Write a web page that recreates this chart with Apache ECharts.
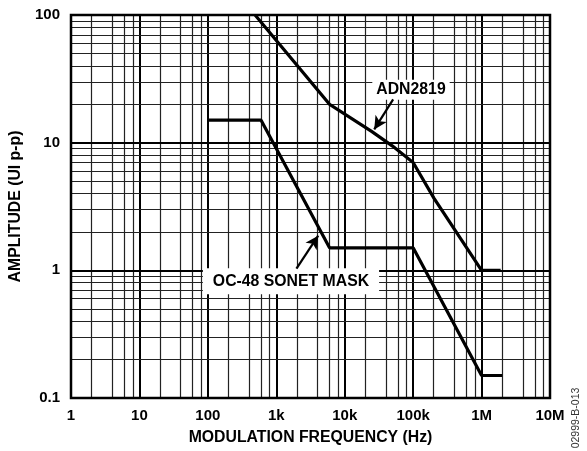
<!DOCTYPE html>
<html>
<head>
<meta charset="utf-8">
<script src="https://cdn.jsdelivr.net/npm/echarts@6/dist/echarts.min.js"></script>
<style>html,body{margin:0;padding:0;background:#fff;}#c{width:587px;height:451px;}</style>
</head>
<body>
<div id="c"></div>
<script>
// ---- data ----
const freqTickLabels = ['1', '10', '100', '1k', '10k', '100k', '1M', '10M'];
const ampTickLabels = ['0.1', '1', '10', '100'];
const adnFreq = [490, 6000, 25000, 50000, 100000, 200000, 1000000, 1900000];
const adnAmp  = [100, 20, 12.2, 9.4, 7, 3.7, 1, 1];
const maskFreq = [100, 600, 6000, 100000, 1000000, 2000000];
const maskAmp  = [15, 15, 1.5, 1.5, 0.15, 0.15];
const xMinorMult = [2, 4, 6, 8];
const yMinorMult = [2, 3, 4, 5, 6, 7, 8, 9];
const xDecades = [1, 10, 100, 1000, 10000, 100000, 1000000];
const yDecades = [0.1, 1, 10];
// annotations (data coordinates)
const adnLabel = {text: 'ADN2819', at: [93000, 26], arrowFrom: [51000, 21.8], arrowTo: [27000, 12.7]};
const maskLabel = {text: 'OC-48 SONET MASK', at: [1640, 0.82], arrowFrom: [1970, 1.03], arrowTo: [4100, 1.87]};

const FONT = '"Liberation Sans", Arial, Helvetica, sans-serif';
const chart = echarts.init(document.getElementById('c'), null, {renderer: 'canvas'});

const zip = (a, b) => a.map((v, i) => [v, b[i]]);

// grid lines
const gridLines = [];
xDecades.forEach((d, i) => {
  if (i > 0) gridLines.push({xAxis: d, lineStyle: {width: 2, color: '#000', type: 'solid'}});
  xMinorMult.forEach(m => gridLines.push({xAxis: d * m, lineStyle: {width: 1.2, color: '#222', type: 'solid'}}));
});
yDecades.forEach((d, i) => {
  if (i > 0) gridLines.push({yAxis: d, lineStyle: {width: 2, color: '#000', type: 'solid'}});
  yMinorMult.forEach(m => gridLines.push({yAxis: +(d * m).toPrecision(3), lineStyle: {width: 1.2, color: '#222', type: 'solid'}}));
});

function tickIdx(v) { return Math.round(Math.log10(v)); }

chart.setOption({
  animation: false,
  backgroundColor: '#fff',
  grid: {left: 71, right: 37, top: 15, bottom: 51, show: true, borderColor: '#000', borderWidth: 2.5, backgroundColor: 'transparent', z: 20},
  xAxis: {
    type: 'log', logBase: 10, min: 1, max: 1e7, splitNumber: 7,
    axisLine: {show: false}, axisTick: {show: false}, splitLine: {show: false},
    axisLabel: {margin: 10, color: '#000', fontFamily: FONT, fontWeight: 'bold', fontSize: 15,
      formatter: v => freqTickLabels[tickIdx(v)]},
    name: 'MODULATION FREQUENCY (Hz)', nameLocation: 'middle', nameGap: 32,
    nameTextStyle: {color: '#000', fontFamily: FONT, fontWeight: 'bold', fontSize: 15.8}
  },
  yAxis: {
    type: 'log', logBase: 10, min: 0.1, max: 100, splitNumber: 3,
    axisLine: {show: false}, axisTick: {show: false}, splitLine: {show: false},
    axisLabel: {margin: 11, color: '#000', fontFamily: FONT, fontWeight: 'bold', fontSize: 15,
      formatter: v => ampTickLabels[tickIdx(v) + 1]},
    name: 'AMPLITUDE (UI p-p)', nameLocation: 'middle', nameGap: 39,
    nameTextStyle: {color: '#000', fontFamily: FONT, fontWeight: 'bold', fontSize: 15.8}
  },
  series: [
    {
      type: 'line', data: [], silent: true, z: 1,
      markLine: {silent: true, symbol: ['none', 'none'], label: {show: false}, z: 1, animation: false,
        lineStyle: {type: 'solid'}, data: gridLines}
    },
    {
      name: 'ADN2819', type: 'line', data: zip(adnFreq, adnAmp), showSymbol: false, symbol: 'none', z: 5,
      lineStyle: {color: '#000', width: 3.2, join: 'miter'}, clip: true
    },
    {
      name: 'OC-48 SONET MASK', type: 'line', data: zip(maskFreq, maskAmp), showSymbol: false, symbol: 'none', z: 5,
      lineStyle: {color: '#000', width: 3.2}, clip: true,
      markLine: {silent: true, symbol: ['none', 'arrow'], symbolSize: [10, 13], label: {show: false}, z: 30, animation: false,
        lineStyle: {color: '#000', width: 2.2, type: 'solid'},
        data: [
          [{coord: adnLabel.arrowFrom}, {coord: adnLabel.arrowTo}],
          [{coord: maskLabel.arrowFrom}, {coord: maskLabel.arrowTo}]
        ]}
    }
  ]
});

function place() {
  const els = [];
  const f = 'bold 15.8px ' + FONT;
  [[adnLabel, 4, 9], [maskLabel, 10, 12]].forEach(([lab, padX, halfH]) => {
    const p = chart.convertToPixel({gridIndex: 0}, lab.at);
    const ctx = document.createElement('canvas').getContext('2d');
    ctx.font = f;
    const w = ctx.measureText(lab.text).width;
    els.push({type: 'rect', z: 25, shape: {x: p[0] - w / 2 - padX, y: p[1] - halfH - 1, width: w + 2 * padX, height: 2 * halfH + 2}, style: {fill: '#fff'}});
    els.push({type: 'text', z: 26, x: p[0], y: p[1], style: {text: lab.text, align: 'center', verticalAlign: 'middle', font: f, fill: '#000'}});
  });
  els.push({type: 'text', z: 26, x: 576, y: 418, rotation: Math.PI / 2,
    style: {text: '02999-B-013', align: 'center', verticalAlign: 'middle', font: '10.5px ' + FONT, fill: '#333'}});
  chart.setOption({graphic: els});
}
place();
</script>
</body>
</html>
